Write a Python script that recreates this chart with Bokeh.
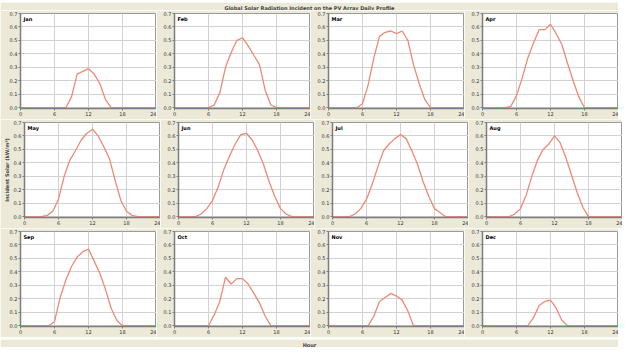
from bokeh.plotting import figure
from bokeh.layouts import column, row
from bokeh.models import Range1d, FixedTicker, NumeralTickFormatter, Label
from bokeh.embed import file_html
from bokeh.resources import INLINE

# ---------------- data ----------------
hours = list(range(25))
jan = [0]*8 + [0.00, 0.08, 0.25, 0.27, 0.29, 0.25, 0.18, 0.06] + [0]*9
feb = [0]*7 + [0.02, 0.11, 0.30, 0.41, 0.50, 0.52, 0.46, 0.39, 0.32, 0.13, 0.02] + [0]*7
mar = [0]*6 + [0.03, 0.17, 0.37, 0.53, 0.56, 0.57, 0.55, 0.57, 0.50, 0.32, 0.18, 0.06] + [0]*7
apr = [0]*5 + [0.01, 0.09, 0.22, 0.37, 0.48, 0.58, 0.58, 0.62, 0.55, 0.47, 0.33, 0.20, 0.08] + [0]*7
may = [0]*4 + [0.01, 0.04, 0.13, 0.30, 0.42, 0.49, 0.57, 0.62, 0.65, 0.60, 0.52, 0.43, 0.27, 0.12, 0.04, 0.01] + [0]*5
jun = [0]*3 + [0.00, 0.02, 0.06, 0.12, 0.22, 0.35, 0.45, 0.54, 0.61, 0.62, 0.57, 0.49, 0.39, 0.26, 0.15, 0.06, 0.02] + [0]*5
jul = [0]*4 + [0.02, 0.06, 0.13, 0.24, 0.37, 0.49, 0.54, 0.58, 0.61, 0.58, 0.49, 0.39, 0.26, 0.15, 0.06, 0.03] + [0]*5
aug = [0]*5 + [0.02, 0.06, 0.16, 0.30, 0.42, 0.50, 0.54, 0.60, 0.55, 0.44, 0.31, 0.18, 0.07] + [0]*7
sep = [0]*6 + [0.03, 0.21, 0.34, 0.44, 0.51, 0.55, 0.57, 0.48, 0.39, 0.27, 0.13, 0.04] + [0]*7
oct_ = [0]*7 + [0.08, 0.18, 0.36, 0.31, 0.35, 0.35, 0.31, 0.24, 0.17, 0.07] + [0]*8
nov = [0]*8 + [0.07, 0.18, 0.21, 0.24, 0.22, 0.19, 0.11] + [0]*10
dec = [0]*9 + [0.06, 0.15, 0.18, 0.19, 0.13, 0.04] + [0]*10

months = ["Jan", "Feb", "Mar", "Apr", "May", "Jun",
          "Jul", "Aug", "Sep", "Oct", "Nov", "Dec"]
series = [jan, feb, mar, apr, may, jun, jul, aug, sep, oct_, nov, dec]

TITLE = "Global Solar Radiation Incident on the PV Array Daily Profile"
YLABEL = "Incident Solar (kW/m\u00b2)"
XLABEL = "Hour"
x_ticks = [0, 6, 12, 18, 24]
y_ticks = [0.0, 0.1, 0.2, 0.3, 0.4, 0.5, 0.6, 0.7]

# ---------------- style ----------------
BG = "#ece9d8"
FONT = "DejaVu Sans"
LINE = "#ee8a74"
FW, FH = 136, 95


def panel(idx):
    c, r = idx % 4, idx // 4
    p = figure(frame_width=FW, frame_height=FH,
               min_border_left=20 if c == 0 else 18, min_border_right=0,
               min_border_top=3, min_border_bottom=11,
               x_range=Range1d(0, 24), y_range=Range1d(-0.006, 0.7),
               output_backend="svg", toolbar_location=None,
               background_fill_color="white", border_fill_color=BG)
    p.line(hours, series[idx], line_color=LINE, line_width=1.3)
    p.xaxis.ticker = FixedTicker(ticks=x_ticks)
    p.yaxis.ticker = FixedTicker(ticks=y_ticks)
    p.yaxis.formatter = NumeralTickFormatter(format="0.0")
    for ax in (p.xaxis[0], p.yaxis[0]):
        ax.axis_line_color = "#7d7d7d"
        ax.axis_line_width = 1.5
        ax.major_tick_line_color = "#7d7d7d"
        ax.major_tick_out = 2
        ax.major_tick_in = 0
        ax.minor_tick_line_color = None
        ax.major_label_text_font_size = "5px"
        ax.major_label_text_font = FONT
        ax.major_label_text_color = "#333333"
        ax.major_label_standoff = 1
    p.xgrid.ticker = FixedTicker(ticks=x_ticks)
    p.ygrid.ticker = FixedTicker(ticks=y_ticks)
    p.grid.grid_line_color = "#d2d2d2"
    p.grid.grid_line_width = 1
    p.outline_line_color = "#9a9a9a"
    p.outline_line_width = 1
    if idx == 4:
        p.yaxis.axis_label = YLABEL
        p.yaxis.axis_label_text_font_size = "5px"
        p.yaxis.axis_label_text_font = FONT
        p.yaxis.axis_label_text_font_style = "bold"
        p.yaxis.axis_label_standoff = 1
    p.add_layout(Label(x=0, y=0.7, x_offset=3, y_offset=-2, text=months[idx],
                       text_font_size="5px", text_font=FONT,
                       text_font_style="bold", text_baseline="top",
                       text_color="black"))
    return p


def strip(text, h):
    s = figure(width=4 * FW + 20 + 3 * 18, height=h,
               x_range=Range1d(0, 1), y_range=Range1d(0, 1),
               output_backend="svg", toolbar_location=None,
               min_border=0, background_fill_color=BG, border_fill_color=BG)
    s.axis.visible = False
    s.grid.visible = False
    s.outline_line_color = None
    s.title.text = text
    s.title.align = "center"
    s.title.text_font_size = "5px"
    s.title.text_font = FONT
    s.title.text_font_style = "bold"
    s.title.offset = 0
    s.title.standoff = 0
    return s


panels = [panel(i) for i in range(12)]
top = strip(TITLE, 10)
bottom = strip(XLABEL, 10)
layout = column(top,
                row(*panels[0:4], spacing=0),
                row(*panels[4:8], spacing=0),
                row(*panels[8:12], spacing=0),
                bottom, spacing=0)

open("out.html", "w").write(file_html(layout, INLINE))
